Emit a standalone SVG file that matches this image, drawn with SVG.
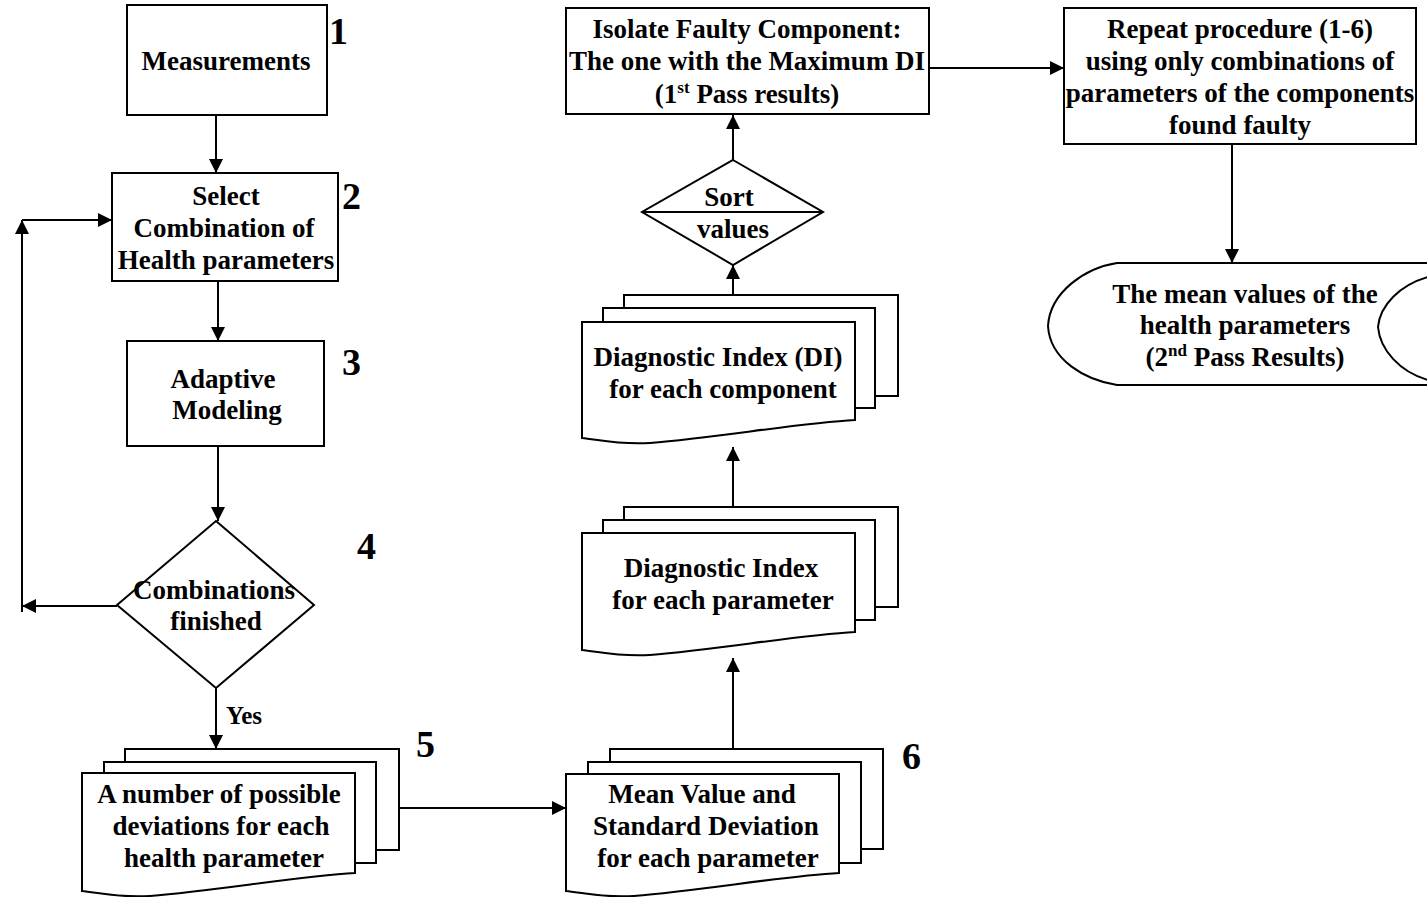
<svg xmlns="http://www.w3.org/2000/svg" width="1427" height="897" viewBox="0 0 1427 897">
<style>
.s{fill:#fff;stroke:#000;stroke-width:2}
.l{fill:none;stroke:#000;stroke-width:2}
.t{font-family:"Liberation Serif","Times New Roman",serif;font-weight:bold;font-size:27px;text-anchor:middle;fill:#000}
.n{font-family:"Liberation Serif","Times New Roman",serif;font-weight:bold;font-size:38px;fill:#000}
.sup{font-size:17px}
</style>
<defs>
<marker id="a" markerUnits="userSpaceOnUse" markerWidth="14" markerHeight="14" refX="14" refY="7" orient="auto">
<path d="M0,0 L14,7 L0,14 Z" fill="#000"/>
</marker>
</defs>
<rect width="1427" height="897" fill="#fff"/>
<g id="connectors">
<path class="l" d="M216,115 V173" marker-end="url(#a)"/>
<path class="l" d="M218,281 V341" marker-end="url(#a)"/>
<path class="l" d="M218,446 V521" marker-end="url(#a)"/>
<path class="l" d="M117,606 H22" marker-end="url(#a)"/>
<path class="l" d="M22,612 V220" marker-end="url(#a)"/>
<path class="l" d="M22,220 H112" marker-end="url(#a)"/>
<path class="l" d="M216,688 V749" marker-end="url(#a)"/>
<path class="l" d="M399,808 H566" marker-end="url(#a)"/>
<path class="l" d="M733,749 V658" marker-end="url(#a)"/>
<path class="l" d="M733,507 V447" marker-end="url(#a)"/>
<path class="l" d="M733,308 V265" marker-end="url(#a)"/>
<path class="l" d="M733,160 V115" marker-end="url(#a)"/>
<path class="l" d="M929,68 H1064" marker-end="url(#a)"/>
<path class="l" d="M1232,144 V263" marker-end="url(#a)"/>
<text class="t" x="244" y="724" style="font-size:25px">Yes</text>
</g>
<g id="n1">
<rect class="s" x="127" y="5" width="200" height="110"/>
<text class="t" x="226" y="70">Measurements</text>
<text class="n" x="329" y="44">1</text>
</g>
<g id="n2">
<rect class="s" x="112" y="173" width="226" height="108"/>
<text class="t" x="226" y="205">Select</text>
<text class="t" x="224" y="237">Combination of</text>
<text class="t" x="226" y="269">Health parameters</text>
<text class="n" x="342" y="209">2</text>
</g>
<g id="n3">
<rect class="s" x="127" y="341" width="197" height="105"/>
<text class="t" x="223" y="388">Adaptive</text>
<text class="t" x="227" y="419">Modeling</text>
<text class="n" x="342" y="375">3</text>
</g>
<g id="n4">
<path class="s" d="M216,521 L314,605 L216,688 L117,605 Z"/>
<text class="t" x="214" y="599">Combinations</text>
<text class="t" x="216" y="630">finished</text>
<text class="n" x="357" y="559">4</text>
</g>
<g id="n5">
<path class="s" d="M125,762 V749 H399 V850 H376"/>
<path class="s" d="M104,773 V762 H376 V863 H355"/>
<path class="s" d="M82,773 H355 V873 C300,876 220,890 150,896 C120,898 100,893 82,891 Z"/>
<text class="t" x="219" y="803">A number of possible</text>
<text class="t" x="221" y="835">deviations for each</text>
<text class="t" x="224" y="867">health parameter</text>
<text class="n" x="416" y="757">5</text>
</g>
<g id="n6">
<path class="s" d="M610,762 V749 H883 V849 H861"/>
<path class="s" d="M588,774 V762 H861 V863 H839"/>
<path class="s" d="M566,774 H839 V873 C784,876 704,890 634,896 C604,898 584,893 566,891 Z"/>
<text class="t" x="702" y="803">Mean Value and</text>
<text class="t" x="706" y="835">Standard Deviation</text>
<text class="t" x="708" y="867">for each parameter</text>
<text class="n" x="902" y="769">6</text>
</g>
<g id="n7">
<path class="s" d="M624,520 V507 H898 V607 H875"/>
<path class="s" d="M603,533 V520 H875 V620 H855"/>
<path class="s" d="M582,533 H855 V632 C800,635 720,649 650,655 C620,657 600,652 582,650 Z"/>
<text class="t" x="721" y="577">Diagnostic Index</text>
<text class="t" x="723" y="609">for each parameter</text>
</g>
<g id="n8">
<path class="s" d="M624,308 V295 H898 V396 H875"/>
<path class="s" d="M603,322 V308 H875 V408 H855"/>
<path class="s" d="M582,322 H855 V420 C800,423 720,437 650,443 C620,445 600,440 582,438 Z"/>
<text class="t" x="718" y="366">Diagnostic Index (DI)</text>
<text class="t" x="723" y="398">for each component</text>
</g>
<g id="n9">
<path class="s" d="M733,160 L823,212 L733,265 L642,212 Z"/>
<path class="l" d="M642,212 H823"/>
<text class="t" x="729" y="206">Sort</text>
<text class="t" x="733" y="238">values</text>
</g>
<g id="n10">
<rect class="s" x="566" y="8" width="363" height="106"/>
<text class="t" x="747" y="38">Isolate Faulty Component:</text>
<text class="t" x="747" y="70">The one with the Maximum DI</text>
<text class="t" x="747" y="103">(1<tspan class="sup" dy="-10">st</tspan><tspan dy="10"> Pass results)</tspan></text>
</g>
<g id="n11">
<rect class="s" x="1064" y="8" width="352" height="136"/>
<text class="t" x="1240" y="38">Repeat procedure (1-6)</text>
<text class="t" x="1240" y="70">using only combinations of</text>
<text class="t" x="1240" y="102">parameters of the components</text>
<text class="t" x="1240" y="134">found faulty</text>
</g>
<g id="n12">
<path class="s" d="M1117,263 H1430 V385 H1117 C1085,380 1050,360 1048,326 C1050,292 1085,268 1117,263 Z"/>
<path class="l" d="M1428,277 C1400,285 1380,305 1378,327 C1380,350 1400,372 1428,380"/>
<text class="t" x="1245" y="303">The mean values of the</text>
<text class="t" x="1245" y="334">health parameters</text>
<text class="t" x="1245" y="366">(2<tspan class="sup" dy="-10">nd</tspan><tspan dy="10"> Pass Results)</tspan></text>
</g>
</svg>
